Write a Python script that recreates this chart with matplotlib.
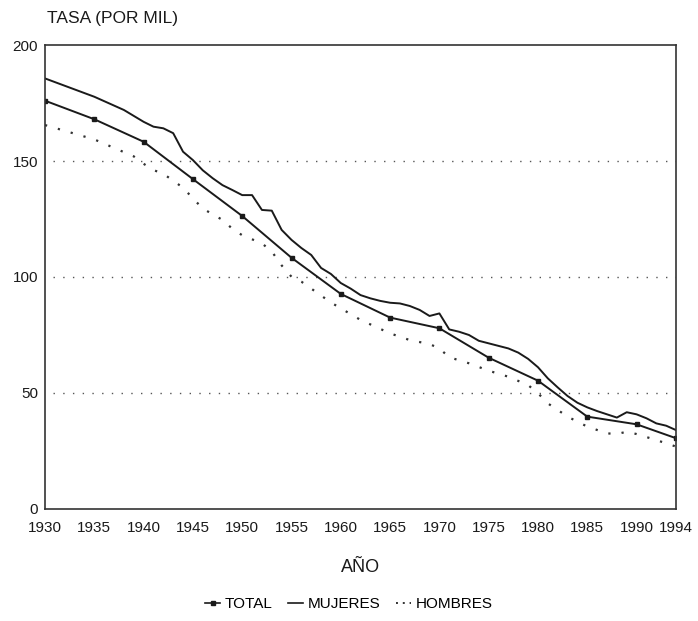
import matplotlib.pyplot as plt
from matplotlib.lines import Line2D

plt.rcParams['font.family'] = ['Liberation Sans', 'DejaVu Sans']

# tasa total: un punto cada cinco años
anios_total = [1930, 1935, 1940, 1945, 1950, 1955, 1960, 1965, 1970, 1975, 1980, 1985, 1990, 1994]
tasa_total = [176, 168, 158.3, 142.2, 126.3, 108.3, 92.7, 82.5, 77.9, 65.2, 55.3, 39.8, 36.5, 30.5]

# mujeres
anios_mujeres = [1930, 1935, 1938, 1940, 1941, 1942, 1943, 1944, 1945, 1946, 1947, 1948, 1949,
                 1950, 1951, 1952, 1953, 1954, 1955, 1956, 1957, 1958, 1959, 1960, 1961, 1962,
                 1963, 1964, 1965, 1966, 1967, 1968, 1969, 1970, 1971, 1972, 1973, 1974, 1975,
                 1976, 1977, 1978, 1979, 1980, 1981, 1982, 1983, 1984, 1985, 1986, 1987, 1988,
                 1989, 1990, 1991, 1992, 1993, 1994]
tasa_mujeres = [185.6, 177.7, 172.0, 166.9, 164.8, 164.1, 162.0, 154.0, 150.4, 146.0, 142.6, 139.6,
                137.5, 135.3, 135.3, 128.9, 128.6, 120.3, 116.0, 112.5, 109.5, 103.9, 101.3, 97.4,
                95.0, 92.2, 90.8, 89.7, 88.9, 88.6, 87.5, 85.8, 83.2, 84.3, 77.4, 76.4, 75.0, 72.5,
                71.4, 70.3, 69.2, 67.4, 64.7, 61.1, 56.3, 52.4, 48.7, 45.8, 43.8, 42.2, 40.8, 39.4,
                41.7, 40.8, 39.1, 36.9, 35.9, 34.0]

# hombres
anios_hombres = [1930, 1935, 1939, 1940, 1941, 1942, 1944, 1945, 1946, 1948, 1949, 1950, 1952,
                 1953, 1954, 1955, 1956, 1957, 1959, 1960, 1962, 1965, 1967, 1969, 1970, 1971,
                 1973, 1975, 1977, 1979, 1980, 1981, 1982, 1983, 1985, 1987, 1988, 1989, 1990,
                 1992, 1994]
tasa_hombres = [165.5, 159.3, 152.0, 148.8, 146.1, 144.5, 138.5, 133.9, 129.5, 124.6, 120.8,
                118.0, 114.5, 111.0, 105.0, 100.1, 98.0, 95.0, 89.0, 86.5, 81.5, 75.7, 72.8,
                71.1, 69.2, 65.4, 62.8, 59.6, 57.0, 53.4, 49.9, 45.5, 42.7, 39.8, 35.5, 32.6,
                32.3, 33.3, 32.3, 29.7, 26.9]

anios_ticks = [1930, 1935, 1940, 1945, 1950, 1955, 1960, 1965, 1970, 1975, 1980, 1985, 1990, 1994]
valores_y = [0, 50, 100, 150, 200]

fig = plt.figure(figsize=(6.98, 6.21), dpi=100)
ax = fig.add_axes([0.0645, 0.1804, 0.904, 0.7471])

for v in [50, 100, 150]:
    ax.plot([1930.8, 1994], [v, v], color='#555555', lw=1.0, linestyle=(0, (1, 6)))

ax.plot(anios_mujeres, tasa_mujeres, color='#1a1a1a', lw=1.4)
ax.plot(anios_hombres, tasa_hombres, color='#333333', lw=1.6, linestyle=(0, (1, 5)))
ax.plot(anios_total, tasa_total, color='#1a1a1a', lw=1.4, marker='s', markersize=3.5)

ax.set_xlim(1930, 1994)
ax.set_ylim(0, 200)
ax.set_xticks(anios_ticks)
ax.set_xticklabels([str(a) for a in anios_ticks], fontsize=11)
ax.set_yticks(valores_y)
ax.set_yticklabels([str(v) for v in valores_y], fontsize=11)
ax.tick_params(length=0, colors='#1a1a1a')
ax.tick_params(axis='x', pad=9)
ax.tick_params(axis='y', pad=5)
for s in ax.spines.values():
    s.set_linewidth(1.2)
    s.set_color('#333333')

ax.set_xlabel('AÑO', fontsize=13, labelpad=17, color='#1a1a1a')
fig.text(0.068, 0.971, 'TASA (POR MIL)', fontsize=12.5, color='#1a1a1a', ha='left', va='center')

handles = [
    Line2D([], [], color='#1a1a1a', lw=1.2, marker='s', markersize=3),
    Line2D([], [], color='#1a1a1a', lw=1.2),
    Line2D([], [], color='#333333', lw=1.4, linestyle=(0, (1, 2.5))),
]
fig.legend(handles, ['TOTAL', 'MUJERES', 'HOMBRES'], loc='center', bbox_to_anchor=(0.5, 0.027),
           ncol=3, frameon=False, fontsize=11, handlelength=1.0, handletextpad=0.3,
           columnspacing=1.0)

fig.savefig('out.png', dpi=100)
